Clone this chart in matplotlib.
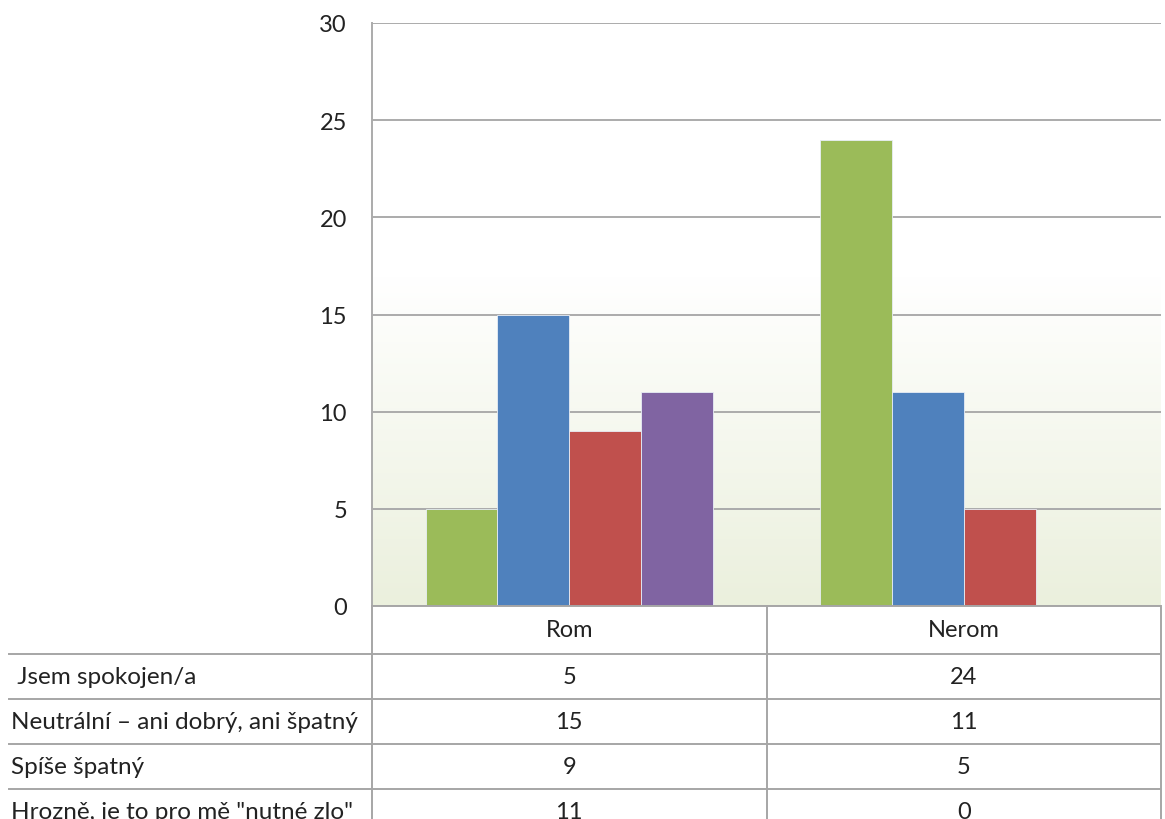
import numpy as np
import matplotlib.pyplot as plt
import matplotlib.transforms as mtransforms
from matplotlib.colors import LinearSegmentedColormap

plt.rcParams['font.family'] = ['Lato', 'DejaVu Sans']

# Survey answers by group
groups = ['Rom', 'Nerom']
answers = [' Jsem spokojen/a',
           'Neutrální – ani dobrý, ani špatný',
           'Spíše špatný',
           'Hrozně, je to pro mě "nutné zlo"']
spokojen = [5, 24]
neutralni = [15, 11]
spise_spatny = [9, 5]
hrozne = [11, 0]
series = [spokojen, neutralni, spise_spatny, hrozne]
colors = ['#9BBB59', '#4F81BD', '#C0504D', '#8064A2']
yticks = [0, 5, 10, 15, 20, 25, 30]

W, H = 1165, 820
fig = plt.figure(figsize=(W / 100, H / 100), dpi=100)

ax_left, ax_right = 372, 1161
ax_top, ax_bottom = 24, 607
ax = fig.add_axes([ax_left / W, 1 - ax_bottom / H,
                   (ax_right - ax_left) / W, (ax_bottom - ax_top) / H])

ax.set_xlim(-0.5, len(groups) - 0.5)
ax.set_ylim(0, 30)

# soft green fade at the bottom of the plot area
fade = LinearSegmentedColormap.from_list('fade', ['#EBF0DD', '#FFFFFF'])
grad = np.clip(np.linspace(0, 30, 300) / 17.0, 0, 1).reshape(-1, 1)
ax.imshow(grad, cmap=fade, origin='lower', aspect='auto',
          extent=[-0.5, len(groups) - 0.5, 0, 30], zorder=0)

bar_w = 0.182
x = np.arange(len(groups))
for i, (vals, col) in enumerate(zip(series, colors)):
    offs = (i - (len(series) - 1) / 2) * bar_w
    ax.bar(x + offs, vals, width=bar_w, color=col, edgecolor='#E8EEF6',
           linewidth=0.6, zorder=3)

ax.set_yticks(yticks)
ax.set_yticklabels([str(t) for t in yticks], fontsize=17, color='#222222')
ax.tick_params(axis='y', length=0, pad=18)
ax.set_xticks([])
ax.yaxis.grid(True, color='#ABABAB', linewidth=1.4, zorder=1)
ax.set_axisbelow(True)
for s in ['top', 'right', 'bottom']:
    ax.spines[s].set_visible(False)
ax.spines['left'].set_color('#ABABAB')
ax.spines['left'].set_linewidth(1.4)

# data table under the chart, in pixel units
tab = fig.add_axes([0, 0, 1, 1 - ax_bottom / H])
tab.set_xlim(0, W)
tab.set_ylim(H, ax_bottom)
tab.axis('off')
colx = mtransforms.blended_transform_factory(ax.transData, tab.transData)

line_kw = dict(color='#A6A6A6', linewidth=1.4, clip_on=False)
header_h, row_h = 48, 45
row_edges = [ax_bottom + header_h + k * row_h for k in range(len(answers) + 1)]

tab.plot([ax_left, ax_right - 1], [ax_bottom, ax_bottom], **line_kw)
for y in row_edges:
    tab.plot([9, ax_right - 1], [y, y], **line_kw)
for xe in np.arange(len(groups) + 1) - 0.5:
    tab.plot([xe, xe], [ax_bottom, H + 20], transform=colx, **line_kw)

for j, g in enumerate(groups):
    tab.text(j, ax_bottom + header_h / 2, g, transform=colx, ha='center',
             va='center', fontsize=17, color='#222222')

for r, (lab, vals) in enumerate(zip(answers, series)):
    yc = row_edges[r] + row_h / 2
    tab.text(11, yc, lab, ha='left', va='center', fontsize=17.5, color='#222222')
    for j, v in enumerate(vals):
        tab.text(j, yc, str(v), transform=colx, ha='center', va='center',
                 fontsize=17, color='#222222')

fig.savefig('out.png', dpi=100)
